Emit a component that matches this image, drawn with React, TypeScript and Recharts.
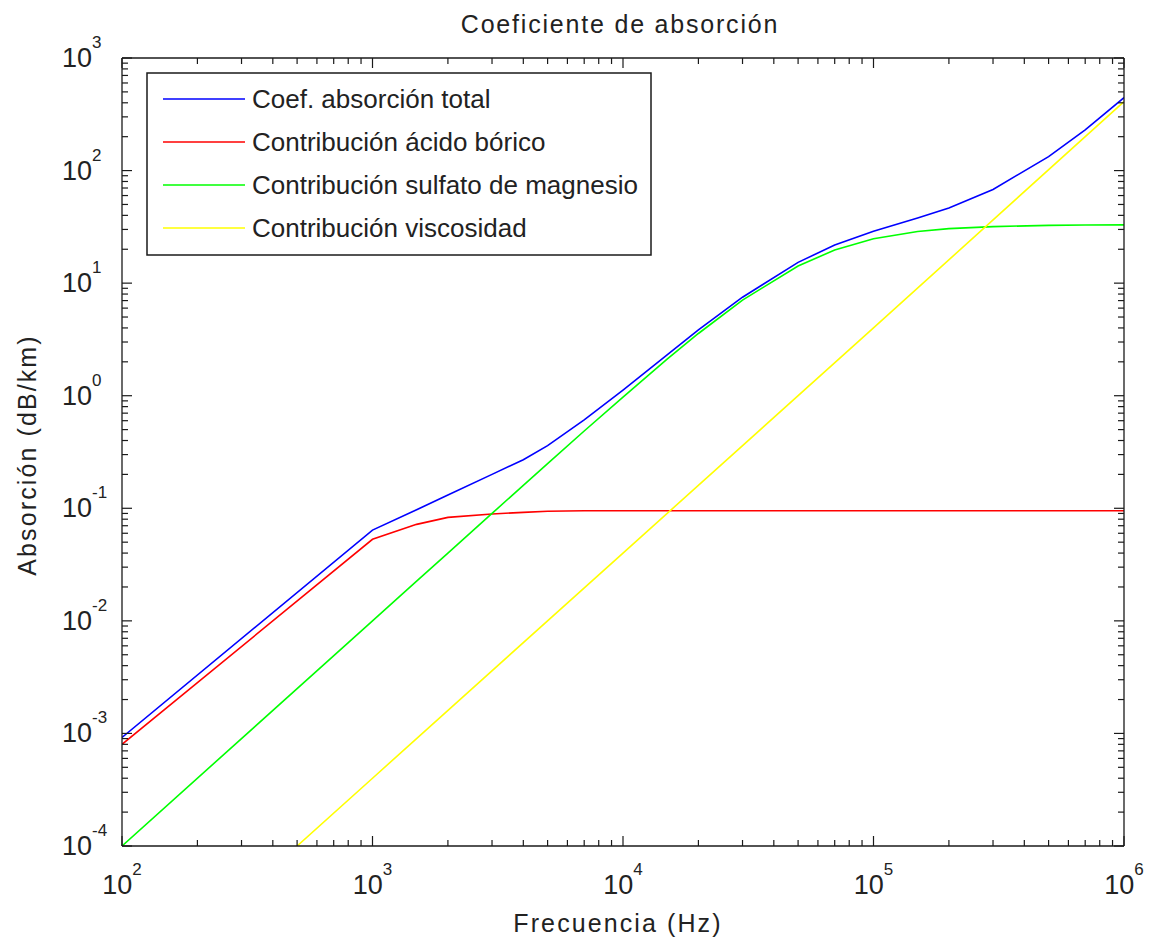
import React from "react"
import { LineChart, Line, XAxis, YAxis } from "recharts"

// frequency samples (Hz) and absorption contributions (dB/km)
const freq = [100, 1000, 1500, 2000, 3000, 4000, 5000, 7000, 1e4, 1.5e4, 2e4, 3e4, 5e4, 7e4, 1e5, 1.5e5, 2e5, 3e5, 5e5, 7e5, 1e6]
const totalAbs = [0.00092, 0.064, 0.097, 0.131, 0.2, 0.27, 0.36, 0.61, 1.12, 2.3, 3.85, 7.5, 15.3, 21.8, 28.9, 37.9, 46.6, 68, 133, 230, 445]
const boricAcid = [0.0008, 0.053, 0.072, 0.083, 0.089, 0.092, 0.094, 0.095, 0.095, 0.095, 0.095, 0.095, 0.095, 0.095, 0.095, 0.095, 0.095, 0.095, 0.095, 0.095, 0.095]
const magnesium = [0.0001, 0.01, 0.0225, 0.04, 0.09, 0.16, 0.249, 0.486, 0.97, 2.11, 3.57, 7.07, 14.2, 19.7, 24.8, 28.8, 30.5, 31.8, 32.6, 32.8, 32.9]

const viscFreq = [500, 1000, 1e4, 1e5, 1e6]
const viscosity = [0.0001, 0.0004, 0.04, 4, 410]

const xMajor = [1e2, 1e3, 1e4, 1e5, 1e6]
const yMajor = [1e-4, 1e-3, 1e-2, 1e-1, 1e0, 1e1, 1e2, 1e3]

const seriesNames = [
  "Coef.  absorción total",
  "Contribución ácido bórico",
  "Contribución sulfato de magnesio",
  "Contribución viscosidad",
]
const seriesColors = ["#0000ff", "#ff0000", "#00ff00", "#ffff00"]

const data = freq.map((f, i) => ({
  f,
  total: totalAbs[i],
  boric: boricAcid[i],
  mg: magnesium[i],
}))
const viscData = viscFreq.map((f, i) => ({ f, visc: viscosity[i] }))

function withMinor(major: number[]) {
  const out: number[] = []
  for (let k = 0; k < major.length; k++) {
    out.push(major[k])
    if (k < major.length - 1) {
      for (let m = 2; m <= 9; m++) out.push(+(major[k] * m).toPrecision(3))
    }
  }
  return out
}
const xTicks = withMinor(xMajor)
const yTicks = withMinor(yMajor)

const FONT = "'Liberation Sans', Arial, Helvetica, sans-serif"
const AXIS = "#1a1a1a"
const MAJOR_LEN = 10
const MINOR_LEN = 6

function isMajor(v: number) {
  const l = Math.log10(v)
  return Math.abs(l - Math.round(l)) < 1e-6
}

function Sup({ x, y, v, anchor }: { x: number; y: number; v: number; anchor: "middle" | "start" }) {
  return (
    <text x={x} y={y} textAnchor={anchor} fontFamily={FONT} fontSize={27} fill="#222">
      10
      <tspan dy={-19} fontSize={17}>{Math.round(Math.log10(v))}</tspan>
    </text>
  )
}

// tick marks point into the plot; labels only on major ticks
function BottomTick({ x, y, payload }: any) {
  const major = isMajor(payload.value)
  return (
    <g>
      <line x1={x} x2={x} y1={y} y2={y - (major ? MAJOR_LEN : MINOR_LEN)} stroke={AXIS} strokeWidth={1.2} />
      {major && <Sup x={x} y={y + 48} v={payload.value} anchor="middle" />}
    </g>
  )
}

function TopTick({ x, y, payload }: any) {
  const major = isMajor(payload.value)
  return <line x1={x} x2={x} y1={y} y2={y + (major ? MAJOR_LEN : MINOR_LEN)} stroke={AXIS} strokeWidth={1.2} />
}

function LeftTick({ x, y, payload }: any) {
  const major = isMajor(payload.value)
  return (
    <g>
      <line x1={x} x2={x + (major ? MAJOR_LEN : MINOR_LEN)} y1={y} y2={y} stroke={AXIS} strokeWidth={1.2} />
      {major && <Sup x={x - 60} y={y + 9} v={payload.value} anchor="start" />}
    </g>
  )
}

function RightTick({ x, y, payload }: any) {
  const major = isMajor(payload.value)
  return <line x1={x} x2={x - (major ? MAJOR_LEN : MINOR_LEN)} y1={y} y2={y} stroke={AXIS} strokeWidth={1.2} />
}

const logX = { dataKey: "f", type: "number" as const, scale: "log" as const, domain: [100, 1e6], allowDataOverflow: true, interval: 0 as const, ticks: xTicks, tickSize: 0, tickMargin: 0, tickLine: false }
const logY = { type: "number" as const, scale: "log" as const, domain: [1e-4, 1e3], allowDataOverflow: true, interval: 0 as const, ticks: yTicks, tickSize: 0, tickMargin: 0, tickLine: false }
const frame = { stroke: AXIS, strokeWidth: 1.3 }

export default function App() {
  return (
    <div style={{ position: "relative", width: 1151, height: 942, background: "#fff" }}>
      <style>{`body{margin:0}`}</style>
      <LineChart width={1151} height={942} margin={{ top: 38, right: 17, bottom: 36, left: 62 }}>
        <XAxis xAxisId="main" {...logX} height={60} axisLine={frame} tick={<BottomTick />} />
        <XAxis xAxisId="top" orientation="top" {...logX} height={20} axisLine={frame} tick={<TopTick />} />
        <YAxis yAxisId="main" {...logY} width={60} axisLine={frame} tick={<LeftTick />} />
        <YAxis yAxisId="right" orientation="right" {...logY} width={10} axisLine={frame} tick={<RightTick />} />

        <Line xAxisId="main" yAxisId="main" data={data} dataKey="total" stroke={seriesColors[0]} strokeWidth={1.6} dot={false} isAnimationActive={false} />
        <Line xAxisId="main" yAxisId="main" data={data} dataKey="boric" stroke={seriesColors[1]} strokeWidth={1.6} dot={false} isAnimationActive={false} />
        <Line xAxisId="main" yAxisId="main" data={data} dataKey="mg" stroke={seriesColors[2]} strokeWidth={1.6} dot={false} isAnimationActive={false} />
        <Line xAxisId="main" yAxisId="main" data={viscData} dataKey="visc" stroke={seriesColors[3]} strokeWidth={1.6} dot={false} isAnimationActive={false} />
      </LineChart>

      <svg width={1151} height={942} style={{ position: "absolute", left: 0, top: 0, pointerEvents: "none" }}>
        <text x={620} y={33} textAnchor="middle" fontFamily={FONT} fontSize={25} letterSpacing={1.8} fill="#222">
          Coeficiente de absorción
        </text>
        <text x={618} y={932} textAnchor="middle" fontFamily={FONT} fontSize={25} letterSpacing={2.1} fill="#222">
          Frecuencia (Hz)
        </text>
        <text x={36} y={455} textAnchor="middle" fontFamily={FONT} fontSize={25} letterSpacing={2.1} fill="#222"
          transform="rotate(-90 36 455)">
          Absorción (dB/km)
        </text>

        <rect x={147} y={73} width={504} height={182} fill="#fff" stroke={AXIS} strokeWidth={1.5} />
        {seriesNames.map((name, i) => (
          <g key={name}>
            <line x1={163} x2={245} y1={99 + i * 43} y2={99 + i * 43} stroke={seriesColors[i]} strokeWidth={1.6} />
            <text x={252} y={108 + i * 43} fontFamily={FONT} fontSize={26} fill="#222">{name}</text>
          </g>
        ))}
      </svg>
    </div>
  )
}
